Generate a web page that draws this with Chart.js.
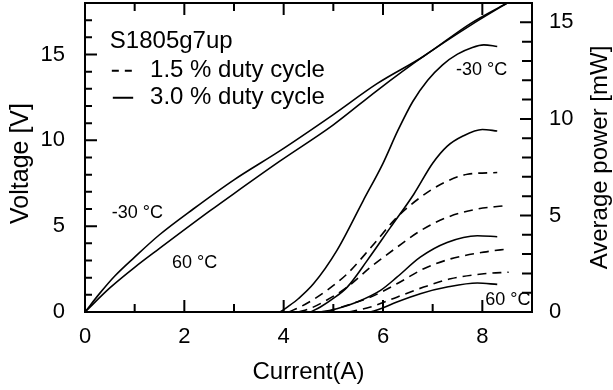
<!DOCTYPE html>
<html>
<head>
<meta charset="utf-8">
<script src="https://cdn.jsdelivr.net/npm/chart.js@4.4.1/dist/chart.umd.min.js"></script>
<style>
  body { margin: 0; background: #fff; }
  canvas { display: block; }
</style>
</head>
<body>
<canvas id="grafico" width="613" height="390"></canvas>
<script>
// tensao (eixo esquerdo)
const correnteV_m30 = [0, 0.3, 0.6, 1.0, 1.5, 2.18, 3.0, 3.93, 5.0, 5.88, 6.82, 7.76, 8.5];
const tensao_m30    = [0, 1.1, 2.1, 3.2, 4.5, 6.0, 7.7, 9.4, 11.5, 13.3, 14.9, 16.8, 18.0];
const correnteV_60  = [0, 0.5, 1.0, 1.5, 2.52, 3.0, 3.93, 5.0, 5.88, 6.82, 7.76, 8.5];
const tensao_60     = [0, 1.4, 2.6, 3.7, 5.9, 6.9, 8.8, 10.9, 12.9, 14.9, 16.7, 18.0];

// potencia media, 3.0 % duty cycle (linhas cheias)
const correnteS1 = [3.93, 4.1, 4.3, 4.6, 5.07, 5.6, 6.0, 6.3, 6.6, 6.9, 7.2, 7.5, 7.8, 8.03, 8.3];
const potenciaS1 = [0, 0.3, 0.7, 1.46, 3.18, 5.76, 7.7, 9.4, 10.9, 12.0, 12.8, 13.35, 13.7, 13.83, 13.75];
const correnteS2 = [4.54, 4.74, 5.0, 5.28, 5.68, 6.15, 6.62, 7.0, 7.3, 7.6, 8.0, 8.3];
const potenciaS2 = [0, 0.26, 0.7, 1.29, 2.66, 4.38, 6.1, 7.7, 8.6, 9.1, 9.45, 9.37];
const correnteS3 = [4.74, 5.07, 5.48, 5.95, 6.28, 6.75, 7.29, 7.9, 8.3];
const potenciaS3 = [0, 0.17, 0.52, 1.12, 1.8, 2.84, 3.6, 3.95, 3.9];
const correnteS4 = [5.75, 5.95, 6.28, 6.75, 7.29, 7.9, 8.3];
const potenciaS4 = [0, 0.17, 0.52, 0.95, 1.29, 1.5, 1.43];

// potencia media, 1.5 % duty cycle (tracejadas)
const correnteD1 = [4.1, 4.33, 4.6, 4.87, 5.28, 5.76, 6.28, 6.75, 7.23, 7.7, 8.3];
const potenciaD1 = [0, 0.26, 0.65, 1.12, 1.98, 3.35, 4.9, 5.93, 6.7, 7.13, 7.22];
const correnteD2 = [4.3, 4.5, 4.8, 5.28, 5.75, 6.28, 6.75, 7.29, 7.9, 8.43];
const potenciaD2 = [0, 0.15, 0.52, 1.29, 2.32, 3.35, 4.2, 4.9, 5.33, 5.5];
const correnteD3 = [4.87, 5.28, 5.75, 6.28, 6.82, 7.36, 8.03, 8.53];
const potenciaD3 = [0, 0.35, 0.77, 1.46, 2.24, 2.75, 3.1, 3.27];
const correnteD4 = [5.3, 5.75, 6.28, 6.82, 7.36, 8.03, 8.53];
const potenciaD4 = [0, 0.26, 0.77, 1.29, 1.72, 1.98, 2.06];

const ticksX = [0, 2, 4, 6, 8];
const ticksY = [0, 5, 10, 15];
const ticksY1 = [0, 5, 10, 15];

const tituloX = 'Current(A)';
const tituloY = 'Voltage [V]';
const tituloY1 = 'Average power [mW]';
const nomeAmostra = 'S1805g7up';
const legendaTracejada = '1.5 % duty cycle';
const legendaCheia = '3.0 % duty cycle';

const fonte = '"Liberation Sans", Arial, sans-serif';

function pontos(xs, ys) {
  return xs.map((x, i) => ({ x: x, y: ys[i] }));
}

function serie(xs, ys, eixo, tracejada) {
  return {
    data: pontos(xs, ys),
    yAxisID: eixo,
    borderColor: '#000',
    borderWidth: 1.6,
    borderDash: tracejada ? [9, 6] : [],
    pointRadius: 0,
    fill: false,
    cubicInterpolationMode: 'monotone'
  };
}

function soTicks(lista) {
  return s => { s.ticks = lista.map(v => ({ value: v })); };
}

// tamanho fixo da caixa de cada eixo, sem folga extra
function caixa(largura, altura) {
  return s => {
    if (largura) s.width = largura;
    if (altura) s.height = altura;
    s.paddingTop = 0; s.paddingBottom = 0;
    s.paddingLeft = 0; s.paddingRight = 0;
  };
}

// textos dentro do grafico, em coordenadas dos dados
const notas = [
  { texto: '-30 °C', x: 0.54, y: 5.77, tam: 18 },
  { texto: '60 °C', x: 1.75, y: 2.83, tam: 18 },
  { texto: '-30 °C', x: 7.47, y: 14.1, tam: 18 },
  { texto: '60 °C', x: 8.06, y: 0.68, tam: 18 }
];

const moldura = {
  id: 'moldura',
  afterDraw(chart) {
    const { ctx, chartArea: a, scales } = chart;
    ctx.save();
    ctx.strokeStyle = '#000';
    ctx.fillStyle = '#000';
    ctx.lineWidth = 2;
    ctx.strokeRect(a.left, a.top, a.right - a.left, a.bottom - a.top);

    ctx.beginPath();
    for (let v = 0; v <= 9; v++) {
      const px = scales.x.getPixelForValue(v);
      const len = v % 2 === 0 ? 12 : 8;
      ctx.moveTo(px, a.bottom); ctx.lineTo(px, a.bottom - len);
      ctx.moveTo(px, a.top); ctx.lineTo(px, a.top + len);
    }
    for (let v = 0; v <= 18; v++) {
      const py = scales.y.getPixelForValue(v);
      const len = v % 5 === 0 ? 12 : 7;
      ctx.moveTo(a.left, py); ctx.lineTo(a.left + len, py);
    }
    for (let v = 0; v <= 16; v++) {
      const py = scales.y1.getPixelForValue(v);
      const len = v % 5 === 0 ? 12 : 10;
      ctx.moveTo(a.right, py); ctx.lineTo(a.right - len, py);
    }
    ctx.stroke();

    // legenda
    const xs = scales.x, ys = scales.y;
    ctx.textBaseline = 'middle';
    ctx.textAlign = 'left';
    ctx.font = '24px ' + fonte;
    ctx.fillText(nomeAmostra, xs.getPixelForValue(0.5), ys.getPixelForValue(15.74));
    ctx.fillText(legendaTracejada, xs.getPixelForValue(1.31), ys.getPixelForValue(14.05));
    ctx.fillText(legendaCheia, xs.getPixelForValue(1.31), ys.getPixelForValue(12.48));

    ctx.beginPath();
    ctx.setLineDash([7, 6]);
    ctx.moveTo(xs.getPixelForValue(0.54), ys.getPixelForValue(14.05));
    ctx.lineTo(xs.getPixelForValue(0.97), ys.getPixelForValue(14.05));
    ctx.stroke();
    ctx.beginPath();
    ctx.setLineDash([]);
    ctx.moveTo(xs.getPixelForValue(0.56), ys.getPixelForValue(12.48));
    ctx.lineTo(xs.getPixelForValue(0.97), ys.getPixelForValue(12.48));
    ctx.stroke();

    notas.forEach(n => {
      ctx.font = n.tam + 'px ' + fonte;
      ctx.fillText(n.texto, xs.getPixelForValue(n.x), ys.getPixelForValue(n.y));
    });

    // titulos dos eixos
    ctx.textAlign = 'center';
    ctx.font = '24px ' + fonte;
    ctx.fillText(tituloX, (a.left + a.right) / 2, 372);

    ctx.save();
    ctx.translate(21, (a.top + a.bottom) / 2 + 6);
    ctx.rotate(-Math.PI / 2);
    ctx.font = '25px ' + fonte;
    ctx.fillText(tituloY, 0, 0);
    ctx.restore();

    ctx.save();
    ctx.translate(600, (a.top + a.bottom) / 2);
    ctx.rotate(-Math.PI / 2);
    ctx.font = '24px ' + fonte;
    ctx.fillText(tituloY1, 0, 0);
    ctx.restore();

    ctx.restore();
  }
};

const fonteTicks = { family: fonte, size: 22 };

new Chart(document.getElementById('grafico').getContext('2d'), {
  type: 'line',
  data: {
    datasets: [
      serie(correnteV_m30, tensao_m30, 'y', false),
      serie(correnteV_60, tensao_60, 'y', false),
      serie(correnteS1, potenciaS1, 'y1', false),
      serie(correnteS2, potenciaS2, 'y1', false),
      serie(correnteS3, potenciaS3, 'y1', false),
      serie(correnteS4, potenciaS4, 'y1', false),
      serie(correnteD1, potenciaD1, 'y1', true),
      serie(correnteD2, potenciaD2, 'y1', true),
      serie(correnteD3, potenciaD3, 'y1', true),
      serie(correnteD4, potenciaD4, 'y1', true)
    ]
  },
  options: {
    responsive: false,
    animation: false,
    devicePixelRatio: 1,
    layout: { padding: { top: 3, left: 0, right: 0, bottom: 0 } },
    plugins: { legend: { display: false }, tooltip: { enabled: false } },
    scales: {
      x: {
        type: 'linear', min: 0, max: 9,
        afterBuildTicks: soTicks(ticksX),
        ticks: { padding: 4, color: '#000', font: fonteTicks, maxRotation: 0 },
        grid: { display: false },
        border: { display: false },
        afterFit: caixa(0, 78)
      },
      y: {
        position: 'left', min: 0, max: 18,
        afterBuildTicks: soTicks(ticksY),
        ticks: { padding: 12, color: '#000', font: fonteTicks },
        grid: { display: false },
        border: { display: false },
        afterFit: caixa(85, 0)
      },
      y1: {
        position: 'right', min: 0, max: 16,
        afterBuildTicks: soTicks(ticksY1),
        ticks: { padding: 9, color: '#000', font: fonteTicks },
        grid: { display: false },
        border: { display: false },
        afterFit: caixa(81, 0)
      }
    }
  },
  plugins: [moldura]
});
</script>
</body>
</html>
